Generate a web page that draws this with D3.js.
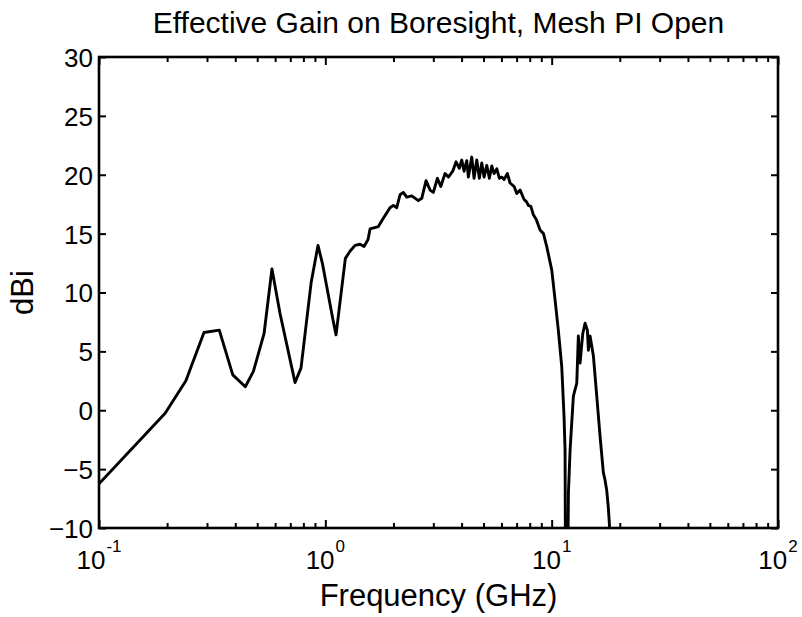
<!DOCTYPE html>
<html>
<head>
<meta charset="utf-8">
<script src="https://cdn.jsdelivr.net/npm/d3@7"></script>
<style>
    body { margin: 0; background: #fff; }
    svg { display: block; font-family: Arial, "Liberation Sans", sans-serif; }
</style>
</head>
<body>
<div id="chart"></div>
<script>
//Datos
let freqGHz = [0.1, 0.196, 0.242, 0.291, 0.340, 0.390, 0.443, 0.481, 0.536, 0.581, 0.631, 0.735, 0.781, 0.865, 0.928, 0.970,
    1.078, 1.115, 1.226, 1.285, 1.353, 1.423, 1.483, 1.544, 1.576, 1.715, 1.804, 1.931, 1.998, 2.068, 2.138, 2.211, 2.289,
    2.409, 2.576, 2.667, 2.786, 2.902, 3.001, 3.126, 3.236, 3.380, 3.496, 3.656, 3.781, 3.910, 4.007, 4.102, 4.216, 4.285,
    4.436, 4.541, 4.667, 4.792, 4.911, 5.027, 5.167, 5.306, 5.438, 5.567, 5.722, 5.875, 6.020, 6.163, 6.373, 6.550, 6.824,
    7.014, 7.253, 7.551, 7.75, 7.889, 8.10, 8.301, 8.55, 8.885, 9.20, 9.513, 10.01, 10.35, 10.70, 11.08, 11.34, 11.46, 11.50,
    11.80, 11.86, 12.06, 12.47, 12.91, 13.12, 13.35, 13.72, 14.05, 14.38, 14.53, 14.78, 15.29, 15.82, 16.36, 16.92, 17.20,
    17.51, 17.80, 18.11];
let gainDBi = [-6.25, -0.25, 2.5, 6.6, 6.8, 3.0, 2.0, 3.3, 6.5, 12.0, 8.2, 2.35, 3.6, 10.8, 14.0, 12.5,
    7.8, 6.4, 12.9, 13.5, 14.0, 14.1, 13.9, 14.5, 15.4, 15.6, 16.3, 17.2, 17.4, 17.2, 18.3, 18.5, 18.1,
    18.2, 17.8, 18.0, 19.5, 18.7, 18.5, 19.7, 19.0, 20.1, 19.8, 20.3, 21.1, 20.55, 21.25, 20.3, 21.2, 19.8,
    21.5, 19.7, 21.25, 19.7, 21.0, 19.8, 20.8, 19.7, 20.75, 20.1, 20.5, 19.7, 19.8, 19.6, 20.1, 19.3, 19.0,
    18.4, 18.7, 17.9, 17.7, 17.4, 17.3, 16.6, 16.2, 15.3, 15.0, 13.9, 11.9, 9.4, 6.8, 3.7, -0.5, -3.4, -12,
    -12, -7, -3.4, 1.2, 2.3, 6.3, 4.0, 6.5, 7.4, 6.8, 5.1, 6.3, 4.6, 1.2, -2.2, -5.3, -5.9,
    -6.8, -8.3, -10.5];

let xDomain = [0.1, 100];
let yDomain = [-10, 30];
let yTicks = [-10, -5, 0, 5, 10, 15, 20, 25, 30];
let xMajorTicks = [0.1, 1, 10, 100];
let xExponents = ['-1', '0', '1', '2'];

let titleText = 'Effective Gain on Boresight, Mesh PI Open';
let xLabelText = 'Frequency (GHz)';
let yLabelText = 'dBi';

let W = 802, H = 617;
let margin = {top: 57, right: 24, bottom: 89, left: 99};
let width = W - margin.left - margin.right,
    height = H - margin.top - margin.bottom;

let svg = d3.select('#chart')
    .append('svg')
    .attr('width', W)
    .attr('height', H);

let chart = svg.append('g')
    .attr('transform', 'translate(' + margin.left + ',' + margin.top + ')');

//Escalas
let x = d3.scaleLog().domain(xDomain).range([0, width]);
let y = d3.scaleLinear().domain(yDomain).range([height, 0]);

let xMinor = x.ticks().filter(d => xMajorTicks.indexOf(d) < 0);

//Ejes: marcas hacia dentro en los cuatro lados
function styleAxis(g) {
    g.select('.domain').remove();
    g.selectAll('.tick line').attr('stroke', '#000').attr('stroke-width', 2);
    g.selectAll('.tick text').remove();
}

chart.append('g')
    .attr('transform', 'translate(0,' + height + ')')
    .call(d3.axisBottom(x).tickValues(xMinor).tickSizeInner(-5).tickSizeOuter(0))
    .call(styleAxis);
chart.append('g')
    .call(d3.axisTop(x).tickValues(xMinor).tickSizeInner(-5).tickSizeOuter(0))
    .call(styleAxis);
chart.append('g')
    .attr('transform', 'translate(0,' + height + ')')
    .call(d3.axisBottom(x).tickValues(xMajorTicks).tickSizeInner(-8).tickSizeOuter(0))
    .call(styleAxis);
chart.append('g')
    .call(d3.axisTop(x).tickValues(xMajorTicks).tickSizeInner(-8).tickSizeOuter(0))
    .call(styleAxis);

let yAxisLeft = chart.append('g')
    .call(d3.axisLeft(y).tickValues(yTicks).tickSizeInner(-7).tickSizeOuter(0).tickPadding(6));
yAxisLeft.select('.domain').remove();
yAxisLeft.selectAll('.tick line').attr('stroke', '#000').attr('stroke-width', 2);
yAxisLeft.selectAll('.tick text')
    .attr('fill', '#000')
    .style('font-size', '26px')
    .style('font-family', 'Arial, "Liberation Sans", sans-serif')
    .attr('dy', '0.36em');

chart.append('g')
    .attr('transform', 'translate(' + width + ',0)')
    .call(d3.axisRight(y).tickValues(yTicks).tickSizeInner(-7).tickSizeOuter(0))
    .call(styleAxis);

//Etiquetas de potencias de diez
let xLabels = chart.append('g')
    .selectAll('text')
    .data(xMajorTicks)
    .enter()
    .append('text')
    .attr('x', d => x(d))
    .attr('y', height + 41)
    .attr('text-anchor', 'middle')
    .attr('fill', '#000');
xLabels.append('tspan')
    .style('font-size', '26px')
    .text('10');
xLabels.append('tspan')
    .attr('dy', -17)
    .attr('dx', 1)
    .style('font-size', '17px')
    .text((d, i) => xExponents[i]);

//Caja
chart.append('rect')
    .attr('width', width)
    .attr('height', height)
    .attr('fill', 'none')
    .attr('stroke', '#000')
    .attr('stroke-width', 2.6);

//Línea
chart.append('clipPath')
    .attr('id', 'plot-clip')
    .append('rect')
    .attr('width', width)
    .attr('height', height);

let line = d3.line()
    .x(d => x(d[0]))
    .y(d => y(d[1]));

chart.append('path')
    .datum(freqGHz.map((f, i) => [f, gainDBi[i]]))
    .attr('clip-path', 'url(#plot-clip)')
    .attr('fill', 'none')
    .attr('stroke', '#000')
    .attr('stroke-width', 2.9)
    .attr('stroke-linejoin', 'round')
    .attr('d', line);

//Textos
svg.append('text')
    .attr('x', margin.left + width / 2)
    .attr('y', 33)
    .attr('text-anchor', 'middle')
    .style('font-size', '30px')
    .text(titleText);

svg.append('text')
    .attr('x', margin.left + width / 2)
    .attr('y', 606)
    .attr('text-anchor', 'middle')
    .style('font-size', '31px')
    .text(xLabelText);

svg.append('text')
    .attr('transform', 'translate(33,' + (margin.top + height / 2) + ') rotate(-90)')
    .attr('text-anchor', 'middle')
    .style('font-size', '31px')
    .text(yLabelText);
</script>
</body>
</html>
